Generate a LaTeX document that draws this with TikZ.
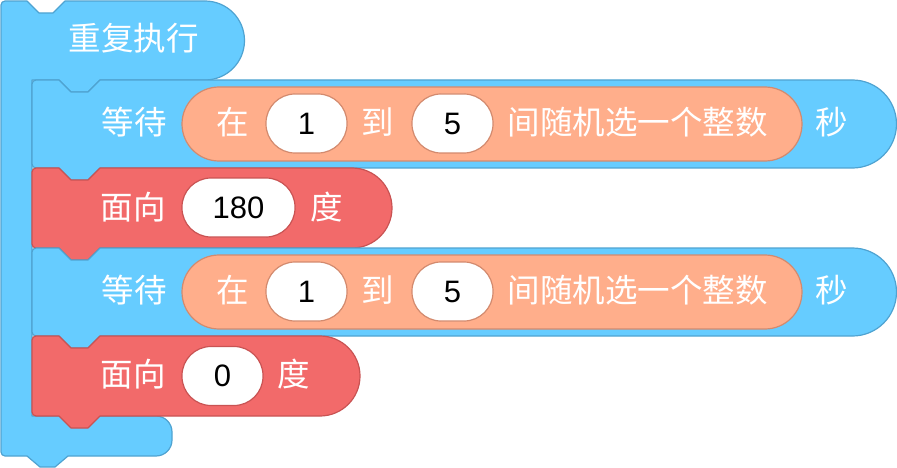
\documentclass[tikz,border=0pt]{standalone}
\usepackage{fontspec}
\setmainfont{Noto Sans CJK SC}
\newfontfamily\numfont{Liberation Sans}
\definecolor{ctrl}{HTML}{66CCFF}
\definecolor{ctrlline}{HTML}{4FA3D1}
\definecolor{turn}{HTML}{F26A6A}
\definecolor{turnline}{HTML}{C95353}
\definecolor{oper}{HTML}{FFAE8B}
\definecolor{operline}{HTML}{D38A6E}
% stack block: top, bottom, centre x of the round end, style
\newcommand{\stackblk}[4]{%
  \draw[#4] (36,#1) -- (59,#1) -- (71,#1-12) -- (88,#1-12) -- (100,#1)
    -- (#3,#1) arc[start angle=90,end angle=-90,radius={(#1-(#2))/2}]
    -- (100,#2) -- (88,#2-12) -- (71,#2-12) -- (59,#2) -- (36,#2)
    arc[start angle=270,end angle=180,radius=4] -- (32,#1-4)
    arc[start angle=180,end angle=90,radius=4] -- cycle;}

\begin{document}
\begin{tikzpicture}[x=1pt,y=1pt,
    blueblk/.style={fill=ctrl,draw=ctrlline,line width=1.2pt,line join=round},
    redblk/.style={fill=turn,draw=turnline,line width=1.2pt,line join=round},
    rep/.style={fill=oper,draw=operline,line width=1.2pt,rounded corners=37pt,
      minimum width=620pt,minimum height=74pt,inner sep=0},
    slot/.style={fill=white,line width=1.2pt,rounded corners=29pt,
      minimum width=81pt,minimum height=59pt,inner sep=0,
      font=\numfont\fontsize{31}{31}\selectfont},
    lbl/.style={text=white,inner sep=0,font=\fontsize{32.5}{32.5}\selectfont}]
  \useasboundingbox (0,0) rectangle (897,-468);
  % repeat block
  \draw[blueblk] (5,-1) -- (27,-1) -- (39,-13) -- (53,-13) -- (65,-1)
    -- (205,-1) arc[start angle=90,end angle=-90,radius=39.5]
    -- (100,-80) -- (88,-92) -- (71,-92) -- (59,-80) -- (32,-80)
    -- (32,-416) -- (156,-416) arc[start angle=90,end angle=0,radius=16]
    -- (172,-440) arc[start angle=0,end angle=-90,radius=16]
    -- (68,-456) -- (55,-467) -- (40,-467) -- (27,-456) -- (5,-456)
    arc[start angle=270,end angle=180,radius=4] -- (1,-5)
    arc[start angle=180,end angle=90,radius=4] -- cycle;
  \node[lbl] (rep) at (133.5,-38) {重复执行};
  % blocks inside
  \stackblk{-80}{-168}{852.5}{blueblk}
  \stackblk{-168}{-248}{352}{redblk}
  \stackblk{-248}{-336}{852.5}{blueblk}
  \stackblk{-336}{-416}{320}{redblk}
  % wait 1
  \node[lbl] (wait1) at (134,-122) {等待};
  \node[rep] (rnd1) at (492,-124) {};
  \node[lbl] (in1) at (233,-122) {在};
  \node[slot,draw=operline] (lo1) at (306.5,-123.5) {1};
  \node[lbl] (to1) at (378,-122) {到};
  \node[slot,draw=operline] (hi1) at (452.5,-123.5) {5};
  \node[lbl] (pick1) at (637.5,-122) {间随机选一个整数};
  \node[lbl] (sec1) at (832,-122) {秒};
  % point 1
  \node[lbl] (face1) at (133,-207) {面向};
  \node[slot,draw=turnline,minimum width=113pt] (dir1) at (238.5,-207.5) {180};
  \node[lbl] (deg1) at (327,-207) {度};
  % wait 2
  \node[lbl] (wait2) at (134,-290) {等待};
  \node[rep] (rnd2) at (492,-292) {};
  \node[lbl] (in2) at (233,-290) {在};
  \node[slot,draw=operline] (lo2) at (306.5,-291.5) {1};
  \node[lbl] (to2) at (378,-290) {到};
  \node[slot,draw=operline] (hi2) at (452.5,-291.5) {5};
  \node[lbl] (pick2) at (637.5,-290) {间随机选一个整数};
  \node[lbl] (sec2) at (832,-290) {秒};
  % point 2
  \node[lbl] (face2) at (133,-374) {面向};
  \node[slot,draw=turnline] (dir2) at (222.5,-376) {0};
  \node[lbl] (deg2) at (294,-374) {度};
\end{tikzpicture}
\end{document}
